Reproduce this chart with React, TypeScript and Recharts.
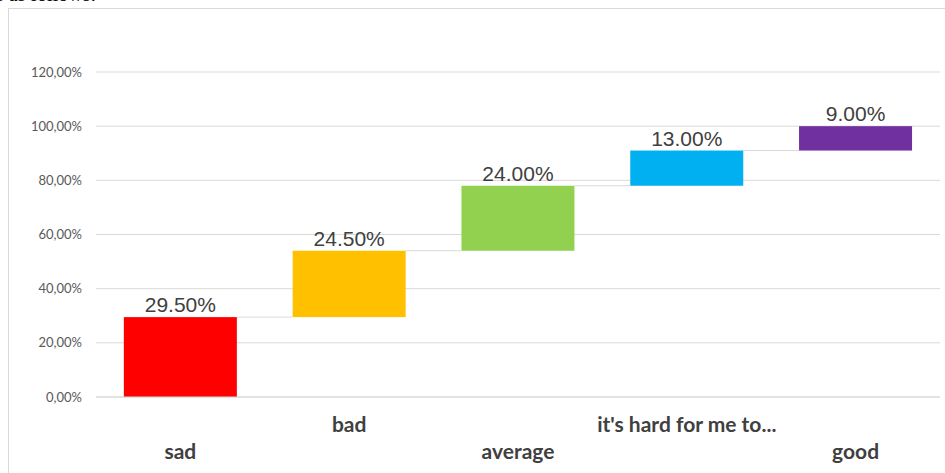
import { BarChart, Bar, XAxis, YAxis, CartesianGrid, Cell, LabelList } from "recharts";

const categories = ["sad", "bad", "average", "it's hard for me to...", "good"];
const shares = [29.5, 24.5, 24, 13, 9];
const barColors = ["#FF0000", "#FFC000", "#92D050", "#00B0F0", "#7030A0"];
const yTicks = [0, 20, 40, 60, 80, 100, 120];

// waterfall: each bar starts where the previous one ended
const starts = shares.map((_, i) => shares.slice(0, i).reduce((s, v) => s + v, 0));

const data = categories.map((name, i) => ({
  name,
  range: [starts[i], starts[i] + shares[i]],
  share: shares[i],
  fill: barColors[i],
}));

const GAP_PCT = 0.165;
const GRID = "#d9d9d9";

function formatAxis(v: number) {
  return `${v.toFixed(2).replace(".", ",")}%`;
}

// bar rect plus the thin connector running to the next bar
function StepBar(props: any) {
  const { x, y, width, height, fill, index } = props;
  const gap = (width * (2 * GAP_PCT)) / (1 - 2 * GAP_PCT);
  return (
    <g>
      {index < categories.length - 1 && (
        <line x1={x + width} x2={x + width + gap} y1={y} y2={y} stroke={GRID} strokeWidth={1} />
      )}
      <rect x={x} y={y} width={width} height={height} fill={fill} />
    </g>
  );
}

function CategoryTick({ x, y, payload, index }: any) {
  const low = index % 2 === 0;
  return (
    <text
      x={x}
      y={y}
      dy={low ? 54 : 27}
      textAnchor="middle"
      fill="#404040"
      fontSize={21}
      fontWeight="bold"
      fontFamily="Lato, sans-serif"
    >
      {payload.value}
    </text>
  );
}

export default function App() {
  return (
    <div
      style={{
        position: "fixed",
        left: 0,
        top: 0,
        width: 945,
        height: 473,
        overflow: "hidden",
        background: "#fff",
      }}
    >
      <div
        style={{
          position: "absolute",
          left: -4,
          top: -17,
          fontFamily: "'Liberation Serif', serif",
          fontSize: 20,
          color: "#000",
          whiteSpace: "nowrap",
        }}
      >
        s as follows:
      </div>
      <div
        style={{
          position: "absolute",
          left: 8,
          top: 8,
          width: 960,
          height: 500,
          borderLeft: `1px solid ${GRID}`,
          borderTop: `1px solid ${GRID}`,
        }}
      />
      <div style={{ position: "absolute", left: 0, top: 0 }}>
        <BarChart
          width={945}
          height={473}
          data={data}
          margin={{ top: 72, right: 5, left: 0, bottom: 0 }}
          barCategoryGap={`${GAP_PCT * 100}%`}
        >
          <CartesianGrid vertical={false} stroke={GRID} />
          <XAxis
            dataKey="name"
            height={76}
            axisLine={{ stroke: GRID }}
            tickLine={false}
            interval={0}
            tick={<CategoryTick />}
          />
          <YAxis
            width={96}
            domain={[0, 120]}
            ticks={yTicks}
            axisLine={false}
            tickLine={false}
            tickMargin={8}
            tickFormatter={formatAxis}
            tick={{ fill: "#595959", fontSize: 13, fontFamily: "Lato, sans-serif" }}
          />
          <Bar dataKey="range" shape={<StepBar />} isAnimationActive={false}>
            {data.map((d) => (
              <Cell key={d.name} fill={d.fill} />
            ))}
            <LabelList
              dataKey="share"
              position="top"
              offset={5}
              formatter={(v: any) => `${Number(v).toFixed(2)}%`}
              fill="#404040"
              fontSize={21}
              fontFamily="'Liberation Sans', Arial, sans-serif"
            />
          </Bar>
        </BarChart>
      </div>
    </div>
  );
}
